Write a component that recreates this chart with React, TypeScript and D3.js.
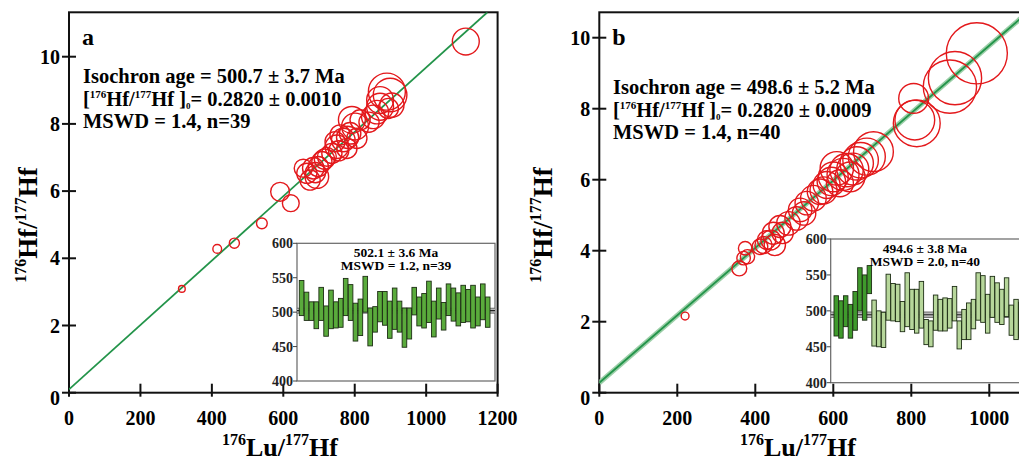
import React from "react";
import * as d3 from "d3";

// ---------- DATA ----------
const xTicks = [0, 200, 400, 600, 800, 1000, 1200];
const yTicks = [0, 2, 4, 6, 8, 10];
const insetTicks = [400, 450, 500, 550, 600];

// panel a: [176Lu/177Hf, 176Hf/177Hf, error (y units)]
const aPoints: [number, number, number][] = [
  [316, 3.09, 0.1], [415, 4.28, 0.13], [463, 4.45, 0.15], [540, 5.04, 0.16], [591, 5.98, 0.28], [621, 5.64, 0.25],
  [656, 6.68, 0.27], [666, 6.53, 0.3], [675, 6.33, 0.3], [684, 6.68, 0.32], [694, 6.43, 0.35], [698, 6.73, 0.3],
  [708, 6.88, 0.3], [722, 7.02, 0.28], [690, 6.55, 0.3], [715, 6.95, 0.3],
  [736, 7.12, 0.3], [745, 7.47, 0.3], [750, 7.32, 0.35], [759, 7.67, 0.3], [768, 7.52, 0.35], [778, 7.27, 0.3],
  [787, 7.72, 0.32], [792, 8.12, 0.4], [801, 7.92, 0.4], [806, 7.57, 0.3], [815, 8.12, 0.3], [755, 7.2, 0.3], [780, 7.6, 0.33],
  [840, 8.05, 0.3], [852, 8.21, 0.35], [862, 8.35, 0.35], [871, 8.51, 0.4], [871, 8.71, 0.4], [890, 8.96, 0.55],
  [894, 8.46, 0.3], [899, 8.86, 0.5], [904, 8.56, 0.36], [1111, 10.45, 0.4],
];
const aIntercept = 0.1;
const aSlope = 0.00958;

// panel b
const bPoints: [number, number, number][] = [
  [220, 2.16, 0.11], [359, 3.5, 0.21], [370, 3.79, 0.19], [374, 4.07, 0.19], [380, 3.83, 0.2], [412, 4.11, 0.22],
  [421, 4.16, 0.24], [429, 4.3, 0.26], [440, 4.3, 0.28], [446, 4.49, 0.31], [450, 4.16, 0.3], [463, 4.68, 0.31],
  [470, 4.5, 0.3], [485, 4.77, 0.33], [506, 4.91, 0.33], [515, 5.15, 0.33], [525, 5.05, 0.33], [532, 5.34, 0.33],
  [549, 5.48, 0.36], [566, 5.66, 0.36], [575, 5.7, 0.38], [583, 5.85, 0.38], [595, 5.95, 0.4], [600, 6.08, 0.42],
  [609, 6.32, 0.47], [617, 5.9, 0.38], [625, 6.15, 0.45], [634, 6.27, 0.47], [643, 6.08, 0.42], [650, 6.3, 0.45],
  [660, 6.46, 0.47], [670, 6.55, 0.5], [686, 6.65, 0.52], [703, 6.79, 0.56], [806, 8.29, 0.42], [809, 7.68, 0.56],
  [814, 7.59, 0.66], [899, 8.62, 0.75], [912, 8.86, 0.75], [968, 9.56, 0.86],
];
const bIntercept = 0.28;
const bSlope = 0.0095;

// inset a: ages (Ma) [top, bottom]
const aBars: [number, number][] = [
  [546, 495], [529, 488], [515, 488], [515, 476], [536, 488], [509, 465], [532, 476], [515, 477], [520, 478],
  [549, 495], [540, 488], [513, 458], [519, 466], [552, 500], [506, 451], [508, 471], [530, 486], [530, 481],
  [516, 462], [535, 475], [516, 471], [506, 449], [506, 461], [536, 496], [522, 480], [527, 477], [545, 485],
  [516, 464], [535, 490], [514, 474], [541, 495], [535, 487], [528, 480], [539, 485], [533, 486], [539, 477],
  [522, 480], [541, 489], [522, 478],
];
const aMean = 502.1;
const aErr = 3.6;

// inset b: [top, bottom, used(1)/excluded(0)]
const bBars: [number, number, number][] = [
  [521, 465, 1], [514, 462, 1], [521, 478, 1], [509, 462, 1], [527, 473, 1], [560, 500, 1], [550, 487, 1], [563, 524, 1],
  [515, 451, 0], [500, 450, 0], [498, 449, 0], [551, 487, 0], [538, 486, 0], [537, 485, 0], [513, 471, 0], [553, 478, 0],
  [530, 474, 0], [530, 469, 0], [541, 476, 0], [488, 453, 0], [486, 450, 0], [522, 473, 0], [516, 472, 0], [518, 472, 0],
  [517, 476, 0], [534, 486, 0], [486, 447, 0], [502, 460, 0], [511, 460, 0], [516, 475, 0], [553, 487, 0], [549, 484, 0],
  [523, 469, 0], [548, 491, 0], [539, 484, 0], [530, 481, 0], [546, 492, 0], [508, 466, 0], [516, 460, 0], [512, 462, 0],
];
const bMean = 494.6;
const bErr = 3.8;

// ---------- STYLE ----------
const FONT = "'Liberation Serif', 'Times New Roman', serif";
const RED = "#e3191c";
const GREEN = "#23944a";
const W = 1019;

type Sc = d3.ScaleLinear<number, number>;

function AxisTitleY({ x, y }: { x: number; y: number }) {
  return (
    <text transform={`translate(${x},${y}) rotate(-90)`} textAnchor="middle" fontFamily={FONT} fontWeight="bold" fontSize={27}>
      <tspan fontSize={16} dy={-11}>176</tspan>
      <tspan dy={11}>Hf/</tspan>
      <tspan fontSize={16} dy={-11}>177</tspan>
      <tspan dy={11}>Hf</tspan>
    </text>
  );
}

function AxisTitleX({ x, y }: { x: number; y: number }) {
  return (
    <text x={x} y={y} textAnchor="middle" fontFamily={FONT} fontWeight="bold" fontSize={26}>
      <tspan fontSize={16} dy={-11}>176</tspan>
      <tspan dy={11}>Lu/</tspan>
      <tspan fontSize={16} dy={-11}>177</tspan>
      <tspan dy={11}>Hf</tspan>
    </text>
  );
}

function InfoText({ x, y, lines }: { x: number; y: number; lines: string[] }) {
  return (
    <g fontFamily={FONT} fontWeight="bold" fontSize={20.5}>
      <text x={x} y={y}>{lines[0]}</text>
      <text x={x} y={y + 23}>
        <tspan>[</tspan>
        <tspan fontSize={11} dy={-8}>176</tspan>
        <tspan dy={8}>Hf/</tspan>
        <tspan fontSize={11} dy={-8}>177</tspan>
        <tspan dy={8}>Hf ]</tspan>
        <tspan fontSize={9} dy={3}>0</tspan>
        <tspan dy={-3}>{lines[1]}</tspan>
      </text>
      <text x={x} y={y + 45}>{lines[2]}</text>
    </g>
  );
}

function Panel({
  id, x, y, points, intercept, slope, xRight, yMax, letter, titleYx, titleXx, halo,
}: {
  id: string; x: Sc; y: Sc; points: [number, number, number][];
  intercept: number; slope: number; xRight: number; yMax: number; letter: string;
  titleYx: number; titleXx: number; halo: boolean;
}) {
  const [x0] = x.range();
  const y0 = y(0);
  const yTop = y(yMax);
  const xEnd = (yMax - intercept) / slope;
  const line = d3.line<number>().x((d) => x(d)).y((d) => y(intercept + slope * d));
  const lineD = line([0, xEnd]) || "";
  return (
    <g>
      <defs>
        <clipPath id={`clip-${id}`}>
          <rect x={x0} y={yTop} width={xRight - x0} height={y0 - yTop} />
        </clipPath>
      </defs>
      <rect x={x0} y={yTop} width={xRight - x0} height={y0 - yTop} fill="none" stroke="#111" strokeWidth={2} />
      {yTicks.map((t) => (
        <g key={`y${t}`}>
          <line x1={x0 - 7} x2={x0 + 7} y1={y(t)} y2={y(t)} stroke="#111" strokeWidth={2} />
          <text x={x0 - 9} y={y(t) + (t === 0 ? 12 : 7)} textAnchor="end" fontFamily={FONT} fontWeight="bold" fontSize={20}>{t}</text>
        </g>
      ))}
      {xTicks.filter((t) => x(t) + 18 < W).map((t) => (
        <g key={`x${t}`}>
          <line x1={x(t)} x2={x(t)} y1={y0 - 9} y2={y0 + 4} stroke="#111" strokeWidth={2} />
          <text x={x(t)} y={y0 + 32} textAnchor="middle" fontFamily={FONT} fontWeight="bold" fontSize={20}>{t}</text>
        </g>
      ))}
      <g clipPath={`url(#clip-${id})`}>
        {halo && <path d={lineD} stroke="#9ccfa8" strokeWidth={5} fill="none" />}
        <path d={lineD} stroke={GREEN} strokeWidth={1.8} fill="none" />
        {points.map((p, i) => (
          <circle key={i} cx={x(p[0])} cy={y(p[1])} r={y(0) - y(p[2])} fill="none" stroke={RED} strokeWidth={1.4} />
        ))}
      </g>
      <text x={x0 + 13} y={yTop + 33} fontFamily={FONT} fontWeight="bold" fontSize={24}>{letter}</text>
      <AxisTitleY x={titleYx} y={225} />
      <AxisTitleX x={titleXx} y={456} />
    </g>
  );
}

function Inset({
  left, right, top, bottom, barsRange, bars, colorOf, mean, err, title1, title2,
}: {
  left: number; right: number; top: number; bottom: number; barsRange: [number, number];
  bars: number[][]; colorOf: (i: number) => string; mean: number; err: number;
  title1: string; title2: string;
}) {
  const yS = d3.scaleLinear().domain([400, 600]).range([bottom, top]);
  const xS = d3.scaleBand<number>().domain(bars.map((_, i) => i)).range(barsRange).paddingInner(0.06);
  const cx = (left + Math.min(right, W)) / 2;
  return (
    <g>
      <rect x={left} y={top} width={right - left} height={bottom - top} fill="#fff" stroke="#666" strokeWidth={1.2} />
      {insetTicks.map((t) => (
        <g key={t}>
          <line x1={left - 4} x2={left} y1={yS(t)} y2={yS(t)} stroke="#444" strokeWidth={1} />
          <text x={left - 4} y={yS(t) + 5} textAnchor="end" fontFamily={FONT} fontWeight="bold" fontSize={14} fill="#222">{t}</text>
        </g>
      ))}
      <rect x={left} y={yS(mean + err)} width={right - left} height={yS(mean - err) - yS(mean + err)} fill="#b8b8b8" />
      <line x1={left} x2={right} y1={yS(mean + err)} y2={yS(mean + err)} stroke="#555" strokeWidth={0.8} />
      <line x1={left} x2={right} y1={yS(mean - err)} y2={yS(mean - err)} stroke="#555" strokeWidth={0.8} />
      <line x1={left} x2={right} y1={yS(mean)} y2={yS(mean)} stroke="#222" strokeWidth={1.2} />
      {bars.map((b, i) => (
        <rect key={i} x={xS(i)} y={yS(b[0])} width={xS.bandwidth()} height={yS(b[1]) - yS(b[0])}
          fill={colorOf(i)} stroke="#1d2d14" strokeWidth={0.9} />
      ))}
      <text x={cx} y={top + 14} textAnchor="middle" fontFamily={FONT} fontWeight="bold" fontSize={13.5}>{title1}</text>
      <text x={cx} y={top + 27} textAnchor="middle" fontFamily={FONT} fontWeight="bold" fontSize={13.5}>{title2}</text>
    </g>
  );
}

export default function App() {
  const xa = d3.scaleLinear().domain([0, 1200]).range([69, 497.6]);
  const ya = d3.scaleLinear().domain([0, 10]).range([392.7, 56.7]);
  const xb = d3.scaleLinear().domain([0, 1200]).range([599.3, 1067.3]);
  const yb = d3.scaleLinear().domain([0, 10]).range([392.7, 37.7]);
  const yaMax = ya.invert(12.3);
  const ybMax = yb.invert(12.3);
  return (
    <svg width={W} height={462} style={{ position: "absolute", left: 0, top: 0, background: "#fff" }}>
      <rect width={W} height={462} fill="#fff" />
      <Panel id="a" x={xa} y={ya} points={aPoints} intercept={aIntercept} slope={aSlope} xRight={497.6}
        yMax={yaMax} letter="a" titleYx={37} titleXx={280} halo={false} />
      <InfoText x={83} y={83} lines={["Isochron age = 500.7 ± 3.7 Ma", "= 0.2820 ± 0.0010", "MSWD = 1.4, n=39"]} />
      <Inset left={297} right={495} top={243.3} bottom={381} barsRange={[299.3, 490]} bars={aBars}
        colorOf={() => "#5aab3c"} mean={aMean} err={aErr} title1="502.1 ± 3.6 Ma" title2="MSWD = 1.2, n=39" />

      <Panel id="b" x={xb} y={yb} points={bPoints} intercept={bIntercept} slope={bSlope} xRight={1067.3}
        yMax={ybMax} letter="b" titleYx={552} titleXx={798} halo={true} />
      <InfoText x={613} y={94} lines={["Isochron age = 498.6 ± 5.2 Ma", "= 0.2820 ± 0.0009", "MSWD = 1.4, n=40"]} />
      <Inset left={830.7} right={1067} top={239} bottom={382.7} barsRange={[834, 1023]} bars={bBars}
        colorOf={(i) => (bBars[i][2] ? "#3f9a2c" : "#b7d79b")} mean={bMean} err={bErr}
        title1="494.6 ± 3.8 Ma" title2="MSWD = 2.0, n=40" />
    </svg>
  );
}
